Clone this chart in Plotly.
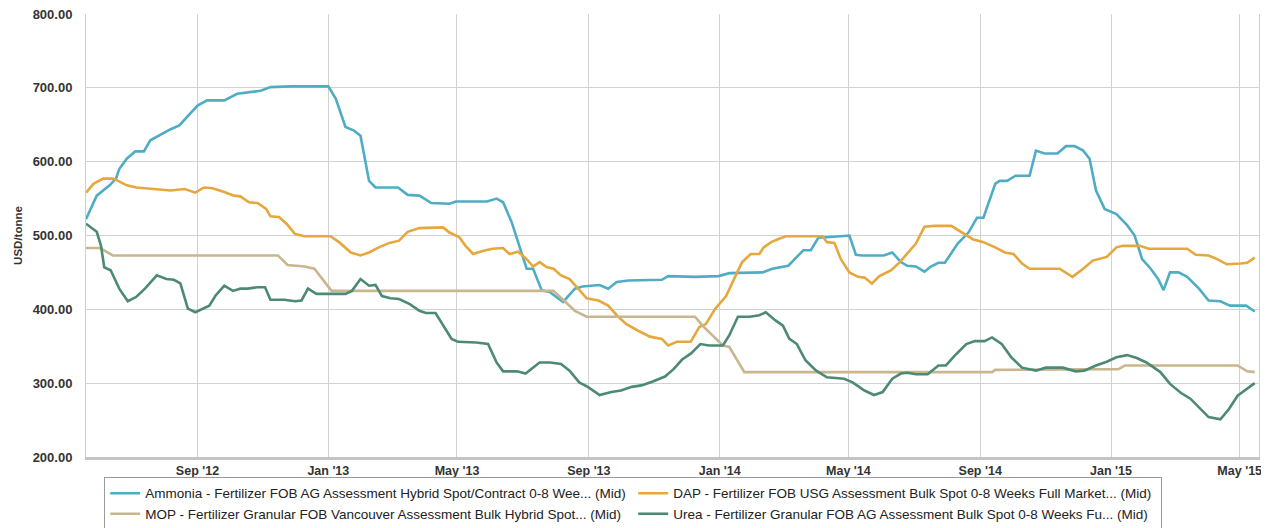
import plotly.graph_objects as go

# ---------------- data ----------------
ammonia_dates = [
    "2012-05-20", "2012-05-30", "2012-06-11", "2012-06-17", "2012-06-20", "2012-06-27",
    "2012-07-05", "2012-07-13", "2012-07-19", "2012-08-01", "2012-08-07", "2012-08-15",
    "2012-08-23", "2012-09-01", "2012-09-10", "2012-09-26", "2012-10-08", "2012-10-21",
    "2012-10-30", "2012-11-08", "2012-11-27", "2013-01-01", "2013-01-08", "2013-01-17",
    "2013-01-25", "2013-01-31", "2013-02-08", "2013-02-14", "2013-03-07", "2013-03-16",
    "2013-03-27", "2013-04-07", "2013-04-24", "2013-04-30", "2013-05-29", "2013-06-07",
    "2013-06-13", "2013-06-21", "2013-06-29", "2013-07-05", "2013-07-11", "2013-07-19",
    "2013-07-27", "2013-08-02", "2013-08-08", "2013-08-19", "2013-08-26", "2013-09-11",
    "2013-09-19", "2013-09-27", "2013-10-08", "2013-11-08", "2013-11-14", "2013-12-09",
    "2013-12-31", "2014-01-10", "2014-02-10", "2014-02-19", "2014-03-06", "2014-03-14",
    "2014-03-20", "2014-03-27", "2014-04-03", "2014-04-14", "2014-05-02", "2014-05-08",
    "2014-05-14", "2014-06-03", "2014-06-11", "2014-06-19", "2014-06-25", "2014-07-03",
    "2014-07-11", "2014-07-17", "2014-07-24", "2014-07-30", "2014-08-11", "2014-08-21",
    "2014-08-29", "2014-09-04", "2014-09-15", "2014-09-19", "2014-09-26", "2014-10-04",
    "2014-10-17", "2014-10-23", "2014-10-31", "2014-11-12", "2014-11-20", "2014-11-28",
    "2014-12-06", "2014-12-12", "2014-12-18", "2014-12-26", "2015-01-06", "2015-01-16",
    "2015-01-23", "2015-01-30", "2015-02-07", "2015-02-14", "2015-02-19", "2015-02-25",
    "2015-03-05", "2015-03-13", "2015-03-24", "2015-04-02", "2015-04-13", "2015-04-22",
    "2015-05-07", "2015-05-15",
]
ammonia_values = [
    522, 554, 568, 577, 590, 604,
    614, 614, 629, 640, 644, 649,
    662, 676, 683, 683, 692, 694,
    696, 701, 702, 702, 685, 647,
    642, 635, 574, 565, 565, 555,
    554, 544, 543, 546, 546, 550,
    545, 518, 482, 455, 455, 426,
    423, 416, 410, 428, 431, 433,
    428, 437, 439, 440, 445, 444,
    445, 449, 450, 455, 459, 471,
    480, 480, 497, 498, 500, 474,
    473, 473, 477, 464, 459, 458,
    451, 458, 463, 463, 489, 504,
    524, 524, 570, 574, 574, 581,
    581, 615, 611, 611, 621, 621,
    615, 604, 561, 536, 529, 514,
    500, 468, 455, 441, 426, 450,
    450, 444, 428, 412, 411, 405,
    405, 397,
]

dap_dates = [
    "2012-05-20", "2012-05-27", "2012-06-05", "2012-06-14", "2012-06-19", "2012-06-27",
    "2012-07-06", "2012-07-22", "2012-08-07", "2012-08-20", "2012-08-30", "2012-09-07",
    "2012-09-15", "2012-09-26", "2012-10-05", "2012-10-11", "2012-10-19", "2012-10-27",
    "2012-11-04", "2012-11-08", "2012-11-16", "2012-11-23", "2012-12-01", "2012-12-10",
    "2013-01-03", "2013-01-11", "2013-01-22", "2013-01-31", "2013-02-08", "2013-02-17",
    "2013-02-27", "2013-03-08", "2013-03-16", "2013-03-27", "2013-04-18", "2013-04-24",
    "2013-05-03", "2013-05-09", "2013-05-16", "2013-05-25", "2013-06-03", "2013-06-13",
    "2013-06-19", "2013-06-27", "2013-07-05", "2013-07-11", "2013-07-17", "2013-07-24",
    "2013-07-30", "2013-08-06", "2013-08-14", "2013-08-22", "2013-08-30", "2013-09-10",
    "2013-09-19", "2013-09-27", "2013-10-06", "2013-10-17", "2013-10-28", "2013-11-08",
    "2013-11-14", "2013-11-22", "2013-12-05", "2013-12-13", "2013-12-19", "2013-12-28",
    "2014-01-07", "2014-01-16", "2014-01-22", "2014-01-30", "2014-02-07", "2014-02-11",
    "2014-02-18", "2014-02-26", "2014-03-04", "2014-04-07", "2014-04-11", "2014-04-18",
    "2014-04-24", "2014-05-02", "2014-05-10", "2014-05-16", "2014-05-23", "2014-05-30",
    "2014-06-10", "2014-06-18", "2014-06-25", "2014-07-03", "2014-07-11", "2014-07-20",
    "2014-08-05", "2014-08-14", "2014-08-25", "2014-09-04", "2014-09-15", "2014-09-24",
    "2014-10-02", "2014-10-10", "2014-10-17", "2014-11-14", "2014-11-26", "2014-12-06",
    "2014-12-15", "2014-12-28", "2015-01-06", "2015-01-12", "2015-01-28", "2015-02-05",
    "2015-03-13", "2015-03-21", "2015-04-02", "2015-04-10", "2015-04-19", "2015-05-02",
    "2015-05-08", "2015-05-15",
]
dap_values = [
    558, 570, 577, 577, 574, 568,
    565, 563, 561, 563, 558, 565,
    564, 559, 554, 553, 545, 544,
    536, 526, 525, 516, 502, 499,
    499, 491, 477, 473, 477, 484,
    490, 493, 505, 510, 511, 504,
    498, 486, 475, 479, 482, 483,
    475, 478, 468, 458, 464, 457,
    455, 446, 441, 428, 415, 412,
    405, 392, 380, 371, 363, 360,
    351, 356, 356, 376, 380, 401,
    418, 446, 464, 475, 475, 484,
    491, 496, 499, 499, 491, 490,
    468, 450, 444, 443, 435, 445,
    453, 464, 475, 489, 512, 513,
    513, 505, 495, 491, 484, 477,
    475, 462, 455, 455, 444, 455,
    466, 471, 484, 486, 486, 482,
    482, 474, 473, 468, 461, 462,
    463, 470,
]

mop_dates = [
    "2012-05-20", "2012-06-02", "2012-06-14", "2012-11-15", "2012-11-24", "2012-12-10",
    "2012-12-19", "2012-12-29", "2013-01-04", "2013-07-30", "2013-08-06", "2013-08-19",
    "2013-08-30", "2013-12-09", "2013-12-16", "2013-12-25", "2014-01-04", "2014-01-10",
    "2014-01-24", "2014-09-12", "2014-09-15", "2015-01-08", "2015-01-14", "2015-04-29",
    "2015-05-08", "2015-05-15",
]
mop_values = [
    483, 483, 473, 473, 460, 458,
    455, 437, 425, 425, 416, 398,
    390, 390, 378, 365, 351, 349,
    315, 315, 318, 319, 324, 324,
    316, 315,
]

urea_dates = [
    "2012-05-20", "2012-05-30", "2012-06-03", "2012-06-06", "2012-06-12", "2012-06-20",
    "2012-06-28", "2012-07-06", "2012-07-14", "2012-07-25", "2012-08-03", "2012-08-10",
    "2012-08-16", "2012-08-23", "2012-08-30", "2012-09-12", "2012-09-18", "2012-09-26",
    "2012-10-04", "2012-10-11", "2012-10-18", "2012-10-27", "2012-11-03", "2012-11-08",
    "2012-11-21", "2012-12-01", "2012-12-07", "2012-12-13", "2012-12-21", "2013-01-17",
    "2013-01-23", "2013-01-31", "2013-02-08", "2013-02-14", "2013-02-20", "2013-02-28",
    "2013-03-08", "2013-03-18", "2013-03-27", "2013-04-02", "2013-04-11", "2013-04-18",
    "2013-04-26", "2013-05-02", "2013-05-19", "2013-05-30", "2013-06-07", "2013-06-13",
    "2013-06-26", "2013-07-04", "2013-07-09", "2013-07-17", "2013-07-27", "2013-08-06",
    "2013-08-14", "2013-08-23", "2013-08-31", "2013-09-11", "2013-09-22", "2013-10-01",
    "2013-10-11", "2013-10-20", "2013-10-30", "2013-11-11", "2013-11-19", "2013-11-27",
    "2013-12-05", "2013-12-14", "2013-12-22", "2014-01-04", "2014-01-10", "2014-01-18",
    "2014-01-29", "2014-02-07", "2014-02-13", "2014-02-22", "2014-03-01", "2014-03-07",
    "2014-03-14", "2014-03-22", "2014-04-01", "2014-04-11", "2014-04-27", "2014-05-05",
    "2014-05-16", "2014-05-25", "2014-06-02", "2014-06-11", "2014-06-19", "2014-06-25",
    "2014-07-03", "2014-07-14", "2014-07-24", "2014-07-31", "2014-08-08", "2014-08-19",
    "2014-08-27", "2014-09-05", "2014-09-12", "2014-09-21", "2014-09-30", "2014-10-10",
    "2014-10-23", "2014-11-01", "2014-11-17", "2014-11-29", "2014-12-07", "2014-12-18",
    "2014-12-28", "2015-01-06", "2015-01-16", "2015-01-25", "2015-02-03", "2015-02-16",
    "2015-02-25", "2015-03-07", "2015-03-16", "2015-03-26", "2015-04-02", "2015-04-13",
    "2015-04-21", "2015-04-29", "2015-05-07", "2015-05-15",
]
urea_values = [
    516, 505, 486, 457, 453, 428,
    411, 417, 428, 446, 441, 440,
    435, 401, 396, 405, 419, 432,
    425, 428, 428, 430, 430, 413,
    413, 411, 412, 428, 421, 421,
    425, 441, 432, 433, 418, 415,
    414, 407, 398, 395, 395, 378,
    360, 356, 355, 353, 328, 316,
    316, 313, 319, 328, 328, 326,
    317, 301, 295, 284, 288, 290,
    295, 297, 302, 309, 319, 332,
    340, 353, 351, 351, 365, 390,
    390, 392, 396, 385, 378, 360,
    353, 331, 317, 308, 306, 301,
    290, 284, 288, 306, 313, 314,
    312, 312, 324, 324, 337, 353,
    357, 357, 362, 353, 335, 321,
    317, 321, 321, 316, 317, 324,
    329, 335, 338, 334, 328, 315,
    299, 287, 279, 265, 254, 251,
    265, 283, 292, 300,
]

series_names = [
    "Ammonia - Fertilizer FOB AG Assessment Hybrid Spot/Contract 0-8 Wee... (Mid)",
    "DAP - Fertilizer FOB USG Assessment Bulk Spot 0-8 Weeks Full Market... (Mid)",
    "MOP - Fertilizer Granular FOB Vancouver Assessment Bulk Hybrid Spot... (Mid)",
    "Urea - Fertilizer Granular FOB AG Assessment Bulk Spot 0-8 Weeks Fu... (Mid)",
]
y_ticks = [200, 300, 400, 500, 600, 700, 800]
y_axis_title = "USD/tonne"

# ---------------- styling ----------------
colors = ["#4FADC3", "#E6A73C", "#C9B68F", "#4C8A73"]
FONT = "Liberation Sans, Arial, sans-serif"

fig = go.Figure()
for name, xs, ys, col in zip(
    series_names,
    [ammonia_dates, dap_dates, mop_dates, urea_dates],
    [ammonia_values, dap_values, mop_values, urea_values],
    colors,
):
    fig.add_trace(go.Scatter(
        x=xs, y=ys, name=name, mode="lines",
        line=dict(color=col, width=2.6),
    ))

# the page body adds an 8px margin, so the figure is sized/offset to compensate
fig.update_layout(
    width=1261, height=520,
    margin=dict(l=78, r=10, t=6, b=71, autoexpand=False),
    paper_bgcolor="white", plot_bgcolor="white",
    font=dict(family=FONT, color="#222222"),
    showlegend=True,
    legend=dict(
        orientation="h",
        x=0.0155, xanchor="left",
        y=-0.045, yanchor="top",
        entrywidth=483, entrywidthmode="pixels",
        itemwidth=30,
        bordercolor="#9a9a9a", borderwidth=1,
        font=dict(family=FONT, size=13.5, color="#222222"),
        tracegroupgap=0,
    ),
)

fig.update_xaxes(
    type="date",
    range=["2012-05-20", "2015-05-19"],
    tick0="2012-09-01", dtick="M4",
    tickformat="%b '%y",
    showgrid=True, gridcolor="#d2d2d2", gridwidth=1,
    showline=True, linecolor="#c4c4c4", linewidth=3,
    ticks="", ticklabelstandoff=0,
    tickfont=dict(family=FONT, size=12.5, color="#333333", weight="bold"),
    zeroline=False, automargin=False,
)
fig.update_yaxes(
    range=[200, 800.01],
    tickvals=y_ticks,
    tickformat=".2f",
    showgrid=True, gridcolor="#d2d2d2", gridwidth=1,
    showline=True, linecolor="#cfcfcf", linewidth=1, mirror=True,
    ticks="", ticklabelstandoff=10, ticklabeloverflow="allow",
    tickfont=dict(family=FONT, size=13, color="#333333", weight="bold"),
    title=dict(text=y_axis_title, standoff=7,
               font=dict(family=FONT, size=11.5, color="#333333", weight="bold")),
    zeroline=False, automargin=False,
)

fig.write_html("out.html")
